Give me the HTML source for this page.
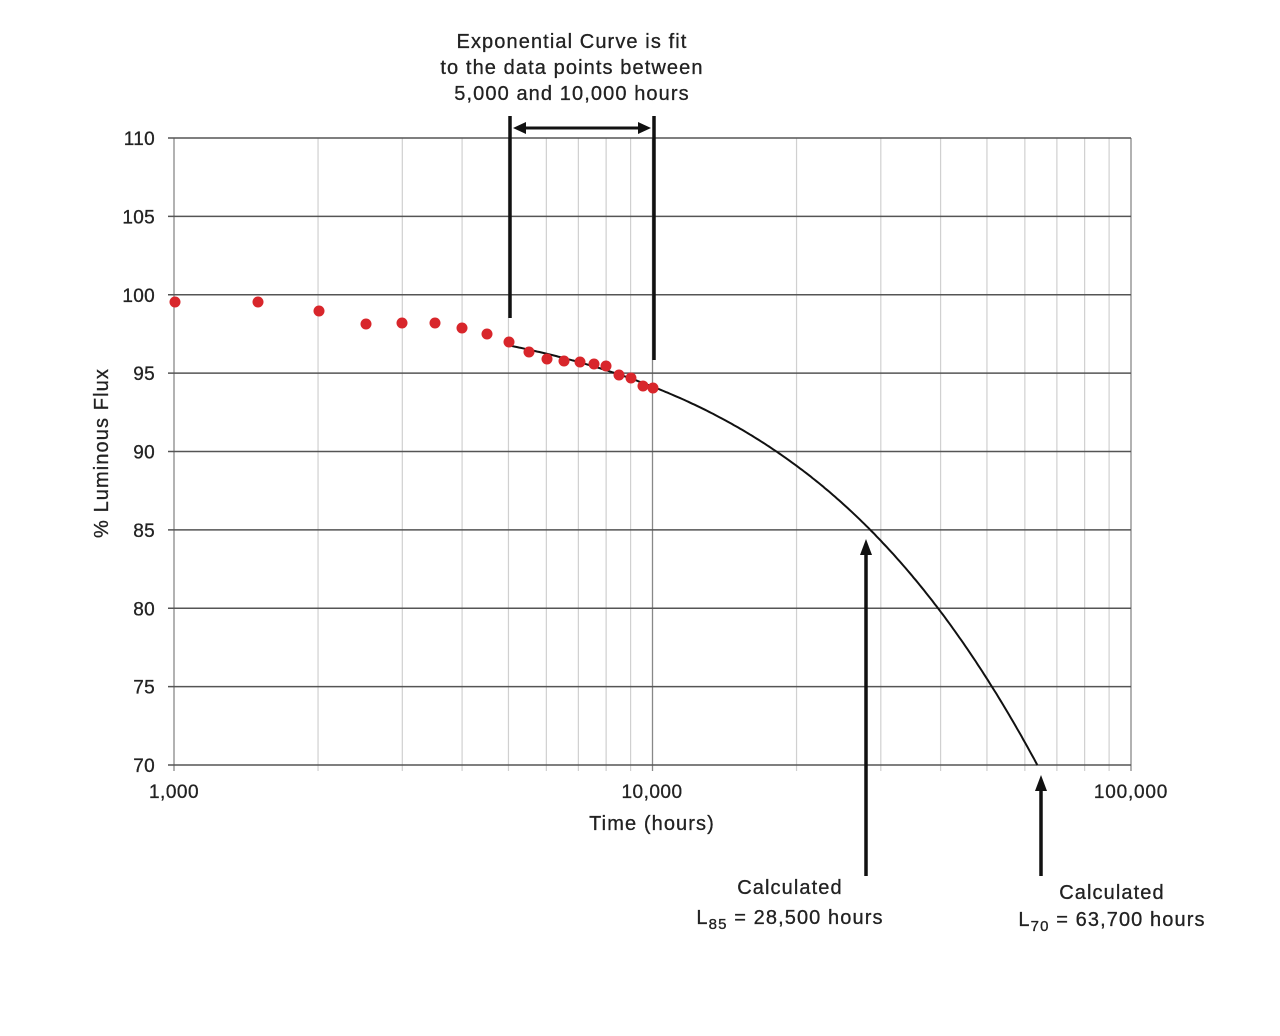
<!DOCTYPE html>
<html><head><meta charset="utf-8"><style>
html,body{margin:0;padding:0;background:#fff;}
svg{display:block;font-family:"Liberation Sans",Arial,sans-serif;}
.big{font-size:20px;letter-spacing:1.1px;}
</style></head><body>
<svg id="s" width="1280" height="1036" viewBox="0 0 1280 1036" xmlns="http://www.w3.org/2000/svg">
<g id="grid"></g>
<g fill="#222" font-size="19" text-anchor="end" id="ylab" stroke="#222" stroke-width="0.3" letter-spacing="0.3"></g>
<g fill="#222" font-size="19" text-anchor="middle" stroke="#222" stroke-width="0.3">
<text x="174" y="798" letter-spacing="0.5">1,000</text>
<text x="652" y="798" letter-spacing="0.5">10,000</text>
<text x="1131" y="798" letter-spacing="0.8">100,000</text>
<text x="652" y="830" class="big">Time (hours)</text>
<text x="572" y="48" class="big">Exponential Curve is fit</text>
<text x="572" y="74" class="big">to the data points between</text>
<text x="572" y="100" class="big">5,000 and 10,000 hours</text>
<text x="790" y="894" class="big">Calculated</text>
<text x="790" y="924" class="big">L<tspan font-size="15" dy="5">85</tspan><tspan dy="-5"> = 28,500 hours</tspan></text>
<text x="1112" y="899" class="big">Calculated</text>
<text x="1112" y="926" class="big">L<tspan font-size="15" dy="5">70</tspan><tspan dy="-5"> = 63,700 hours</tspan></text>
</g>
<text fill="#222" stroke="#222" stroke-width="0.3" class="big" text-anchor="middle" transform="translate(108,453) rotate(-90)">% Luminous Flux</text>
<path id="curve" fill="none" stroke="#111" stroke-width="2"/>
<g id="dots" fill="#d8262b"></g>
<g stroke="#111" stroke-width="3.5" fill="none">
<line x1="510" y1="116" x2="510" y2="318"/>
<line x1="654" y1="116" x2="654" y2="360"/>
<line x1="520" y1="128" x2="645" y2="128" stroke-width="3"/>
<line x1="866" y1="876" x2="866" y2="552"/>
<line x1="1041" y1="876" x2="1041" y2="788"/>
</g>
<g fill="#111">
<polygon points="513,128 526,122 526,134"/>
<polygon points="651,128 638,122 638,134"/>
<polygon points="866,539 860,555 872,555"/>
<polygon points="1041,775 1035,791 1047,791"/>
</g>
</svg>
<script>
const NS="http://www.w3.org/2000/svg";
const X=t=>174+478.5*Math.log10(t/1000);
const Y=v=>138+(110-v)*15.675;
function el(p,n,a){const e=document.createElementNS(NS,n);for(const k in a)e.setAttribute(k,a[k]);document.getElementById(p).appendChild(e);return e;}
for(const d of [1000,10000]){for(let m=1;m<=9;m++){const x=X(d*m);el("grid","line",{x1:x,y1:138,x2:x,y2:771,stroke:(m==1)?"#888":"#d0d0d0","stroke-width":m==1?1.3:1.2});}}
el("grid","line",{x1:1131,y1:138,x2:1131,y2:771,stroke:"#888","stroke-width":1.3});
for(let v=70;v<=110;v+=5){const y=Y(v);el("grid","line",{x1:168,y1:y,x2:1131,y2:y,stroke:"#555","stroke-width":1.6});
 const t=el("ylab","text",{x:155,y:y+7});t.textContent=v;}
let d="";for(let t=5000;t<=63700;t*=1.01){const v=99.48*Math.exp(-5.516e-6*t);d+=(d?"L":"M")+X(t).toFixed(1)+","+Y(v).toFixed(1);}
d+="L"+X(63700).toFixed(1)+","+Y(70).toFixed(1);
document.getElementById("curve").setAttribute("d",d);
const pts=[[175,302],[258,302],[319,311],[366,324],[402,323],[435,323],[462,328],[487,334],[509,342],[529,352],[547,359],[564,361],[580,362],[594,364],[606,366],[619,375],[631,378],[643,386],[653,388]];
for(const p of pts)el("dots","circle",{cx:p[0],cy:p[1],r:5.5});
</script>
</body></html>
